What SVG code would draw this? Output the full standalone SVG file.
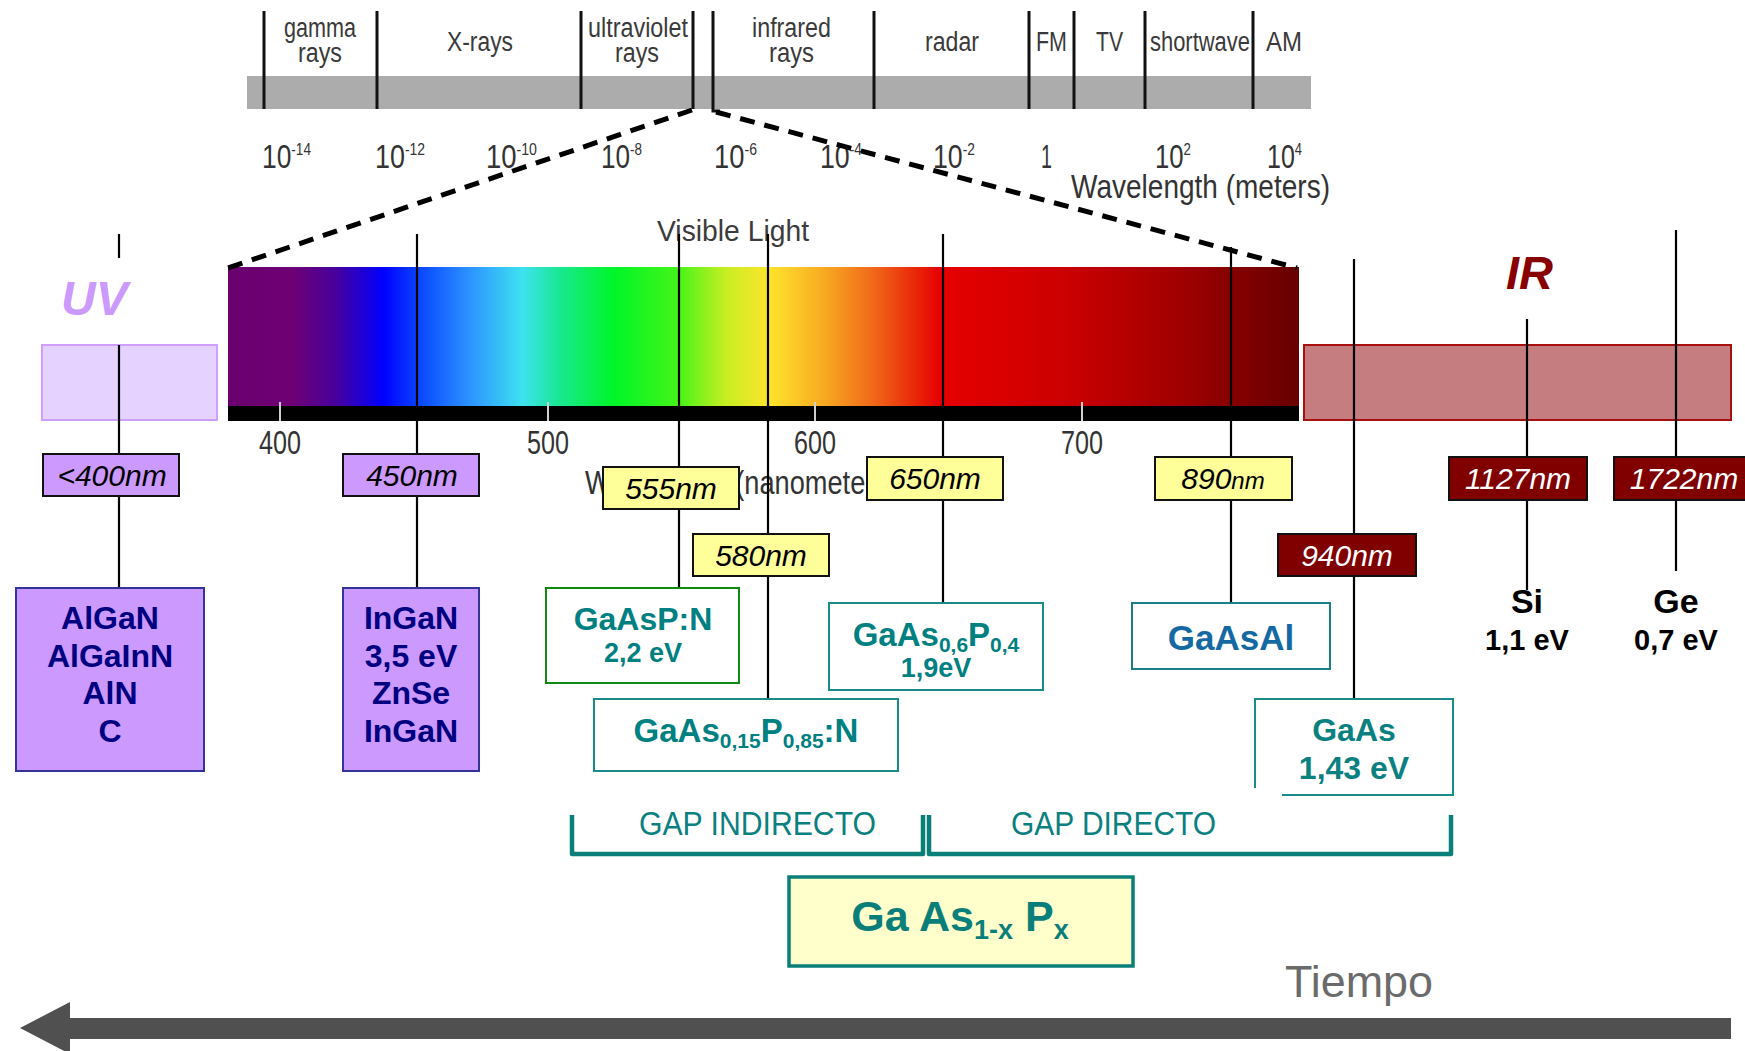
<svg xmlns="http://www.w3.org/2000/svg" width="1745" height="1051" viewBox="0 0 1745 1051">
<style>
.top{font-family:"Liberation Sans",Arial,sans-serif;font-size:27px;fill:#3a3a3a}
.tk{font-family:"Liberation Sans",Arial,sans-serif;font-size:33px;fill:#333}
.sup{font-size:17px}
.vis{font-family:"Liberation Sans",Arial,sans-serif;font-size:30px;fill:#3c3c3c}
.nm{font-family:"Liberation Sans",Arial,sans-serif;font-size:30px;font-style:italic;text-anchor:middle}
.mat{font-family:"Liberation Sans",Arial,sans-serif;font-weight:bold;text-anchor:middle}
.gap{font-family:"Liberation Sans",Arial,sans-serif;font-size:34px;fill:#0a8080}
.ln{stroke:#000;stroke-width:2.2;fill:none}
.div{stroke:#111;stroke-width:3;fill:none}
.dash{stroke:#000;stroke-width:5;stroke-dasharray:15 10;fill:none}
.lbl{stroke:#111;stroke-width:2}
.brk{stroke:#0a7f7a;stroke-width:4.5;fill:none;stroke-linejoin:round}
</style>
<defs>
<linearGradient id="spec" x1="0" y1="0" x2="1" y2="0">
<stop offset="0" stop-color="#6a006e"/>
<stop offset="0.06" stop-color="#6e0074"/>
<stop offset="0.10" stop-color="#48009c"/>
<stop offset="0.145" stop-color="#0000ff"/>
<stop offset="0.18" stop-color="#0a48ff"/>
<stop offset="0.225" stop-color="#2c92ff"/>
<stop offset="0.275" stop-color="#3ee2f0"/>
<stop offset="0.31" stop-color="#18e890"/>
<stop offset="0.36" stop-color="#00f628"/>
<stop offset="0.42" stop-color="#44f418"/>
<stop offset="0.465" stop-color="#c8ee22"/>
<stop offset="0.505" stop-color="#ffe42c"/>
<stop offset="0.555" stop-color="#f8ac22"/>
<stop offset="0.605" stop-color="#f06418"/>
<stop offset="0.665" stop-color="#e60000"/>
<stop offset="0.78" stop-color="#cc0000"/>
<stop offset="0.89" stop-color="#a00000"/>
<stop offset="1" stop-color="#660000"/>
</linearGradient>
</defs>
<rect width="1745" height="1051" fill="#fff"/>

<g id="em-spectrum">
<rect x="247" y="76" width="1064" height="33" fill="#acacac"/>
<g class="div">
<line x1="264" y1="11" x2="264" y2="109"/>
<line x1="377" y1="11" x2="377" y2="109"/>
<line x1="581" y1="11" x2="581" y2="109"/>
<line x1="693" y1="11" x2="693" y2="109"/>
<polyline points="713,11 713,111 720,111"/>
<line x1="874" y1="11" x2="874" y2="109"/>
<line x1="1029" y1="11" x2="1029" y2="109"/>
<line x1="1074" y1="11" x2="1074" y2="109"/>
<line x1="1145" y1="11" x2="1145" y2="109"/>
<line x1="1253" y1="11" x2="1253" y2="109"/>
</g>
<text class="top" x="284" y="37" textLength="72" lengthAdjust="spacingAndGlyphs">gamma</text>
<text class="top" x="298" y="62" textLength="44" lengthAdjust="spacingAndGlyphs">rays</text>
<text class="top" x="447" y="51" textLength="66" lengthAdjust="spacingAndGlyphs">X-rays</text>
<text class="top" x="588" y="37" textLength="100" lengthAdjust="spacingAndGlyphs">ultraviolet</text>
<text class="top" x="615" y="62" textLength="44" lengthAdjust="spacingAndGlyphs">rays</text>
<text class="top" x="752" y="37" textLength="79" lengthAdjust="spacingAndGlyphs">infrared</text>
<text class="top" x="769" y="62" textLength="45" lengthAdjust="spacingAndGlyphs">rays</text>
<text class="top" x="925" y="51" textLength="54" lengthAdjust="spacingAndGlyphs">radar</text>
<text class="top" x="1036" y="51" textLength="31" lengthAdjust="spacingAndGlyphs">FM</text>
<text class="top" x="1096" y="51" textLength="27" lengthAdjust="spacingAndGlyphs">TV</text>
<text class="top" x="1150" y="51" textLength="100" lengthAdjust="spacingAndGlyphs">shortwave</text>
<text class="top" x="1266" y="51" textLength="36" lengthAdjust="spacingAndGlyphs">AM</text>
<text class="tk" x="262" y="168" textLength="49" lengthAdjust="spacingAndGlyphs">10<tspan class="sup" dy="-13">-14</tspan></text>
<text class="tk" x="375" y="168" textLength="50" lengthAdjust="spacingAndGlyphs">10<tspan class="sup" dy="-13">-12</tspan></text>
<text class="tk" x="486" y="168" textLength="51" lengthAdjust="spacingAndGlyphs">10<tspan class="sup" dy="-13">-10</tspan></text>
<text class="tk" x="601" y="168" textLength="41" lengthAdjust="spacingAndGlyphs">10<tspan class="sup" dy="-13">-8</tspan></text>
<text class="tk" x="714" y="168" textLength="43" lengthAdjust="spacingAndGlyphs">10<tspan class="sup" dy="-13">-6</tspan></text>
<text class="tk" x="820" y="168" textLength="42" lengthAdjust="spacingAndGlyphs">10<tspan class="sup" dy="-13">-4</tspan></text>
<text class="tk" x="933" y="168" textLength="42" lengthAdjust="spacingAndGlyphs">10<tspan class="sup" dy="-13">-2</tspan></text>
<text class="tk" x="1041" y="168" textLength="11" lengthAdjust="spacingAndGlyphs">1</text>
<text class="tk" x="1155" y="168" textLength="36" lengthAdjust="spacingAndGlyphs">10<tspan class="sup" dy="-13">2</tspan></text>
<text class="tk" x="1267" y="168" textLength="35" lengthAdjust="spacingAndGlyphs">10<tspan class="sup" dy="-13">4</tspan></text>
<text class="tk" x="1071" y="198" font-size="31" textLength="259" lengthAdjust="spacingAndGlyphs">Wavelength (meters)</text>
</g>

<g id="visible-spectrum">
<text class="vis" x="657" y="241" textLength="152" lengthAdjust="spacingAndGlyphs">Visible Light</text>
<rect x="228" y="267" width="1071" height="140" fill="url(#spec)"/>
<rect x="228" y="406" width="1071" height="15" fill="#000"/>
<g stroke="#cfcfcf" stroke-width="2">
<line x1="280" y1="402" x2="280" y2="421"/>
<line x1="548" y1="402" x2="548" y2="421"/>
<line x1="815" y1="402" x2="815" y2="421"/>
<line x1="1082" y1="402" x2="1082" y2="421"/>
</g>
<text class="tk" x="259" y="454" textLength="42" lengthAdjust="spacingAndGlyphs">400</text>
<text class="tk" x="527" y="454" textLength="42" lengthAdjust="spacingAndGlyphs">500</text>
<text class="tk" x="794" y="454" textLength="42" lengthAdjust="spacingAndGlyphs">600</text>
<text class="tk" x="1061" y="454" textLength="42" lengthAdjust="spacingAndGlyphs">700</text>
<text class="tk" x="585" y="494" fill="#444" textLength="312" lengthAdjust="spacingAndGlyphs">Wavelength (nanometers)</text>
</g>

<g id="uv-band">
<rect x="42" y="345" width="175" height="75" fill="#e6d2ff" stroke="#cf9eff" stroke-width="2"/>
<text x="61" y="315" font-family="Liberation Sans, Arial, sans-serif" font-size="48" font-weight="bold" font-style="italic" fill="#cc99ff">UV</text>
</g>
<g id="ir-band">
<rect x="1304" y="345" width="427" height="75" fill="#c67d7f" stroke="#a81010" stroke-width="2"/>
<text x="1506" y="289" font-family="Liberation Sans, Arial, sans-serif" font-size="47" font-weight="bold" font-style="italic" fill="#880000">IR</text>
</g>

<g id="connectors">
<line class="ln" x1="119" y1="234" x2="119" y2="258"/>
<line class="ln" x1="119" y1="345" x2="119" y2="588"/>
<line class="ln" x1="417" y1="234" x2="417" y2="588"/>
<line class="ln" x1="679" y1="234" x2="679" y2="588"/>
<line class="ln" x1="768" y1="234" x2="768" y2="699"/>
<line class="ln" x1="943" y1="234" x2="943" y2="603"/>
<line class="ln" x1="1231" y1="247" x2="1231" y2="603"/>
<line class="ln" x1="1354" y1="259" x2="1354" y2="699"/>
<line class="ln" x1="1527" y1="319" x2="1527" y2="590"/>
<line class="ln" x1="1676" y1="230" x2="1676" y2="571"/>
<line class="dash" x1="692" y1="110" x2="228" y2="268"/>
<line class="dash" x1="716" y1="112" x2="1297" y2="268"/>
</g>

<g id="lbl-400">
<rect class="lbl" x="43" y="454" width="136" height="42" fill="#cc99ff"/>
<text class="nm" x="112" y="486">&lt;400nm</text>
</g>
<g id="lbl-450">
<rect class="lbl" x="343" y="454" width="136" height="42" fill="#cc99ff"/>
<text class="nm" x="412" y="486">450nm</text>
</g>
<g id="lbl-555">
<rect class="lbl" x="603" y="467" width="136" height="42" fill="#ffff99"/>
<text class="nm" x="671" y="499">555nm</text>
</g>
<g id="lbl-580">
<rect class="lbl" x="693" y="534" width="136" height="42" fill="#ffff99"/>
<text class="nm" x="761" y="566">580nm</text>
</g>
<g id="lbl-650">
<rect class="lbl" x="867" y="457" width="136" height="43" fill="#ffff99"/>
<text class="nm" x="935" y="489">650nm</text>
</g>
<g id="lbl-890">
<rect class="lbl" x="1155" y="457" width="137" height="43" fill="#ffff99"/>
<text class="nm" x="1223" y="489">890<tspan font-size="24">nm</tspan></text>
</g>
<g id="lbl-940">
<rect class="lbl" x="1278" y="534" width="138" height="42" fill="#800000"/>
<text class="nm" x="1347" y="566" fill="#fff">940nm</text>
</g>
<g id="lbl-1127">
<rect class="lbl" x="1449" y="457" width="138" height="43" fill="#800000"/>
<text class="nm" x="1518" y="489" fill="#fff">1127nm</text>
</g>
<g id="lbl-1722">
<rect class="lbl" x="1614" y="457" width="140" height="43" fill="#800000"/>
<text class="nm" x="1684" y="489" fill="#fff">1722nm</text>
</g>

<g id="node-algan">
<rect x="16" y="588" width="188" height="183" fill="#cc99ff" stroke="#333399" stroke-width="2"/>
<g class="mat" font-size="32" fill="#000080">
<text x="110" y="629">AlGaN</text>
<text x="110" y="667">AlGaInN</text>
<text x="110" y="704">AlN</text>
<text x="110" y="742">C</text>
</g>
</g>
<g id="node-ingan">
<rect x="343" y="588" width="136" height="183" fill="#cc99ff" stroke="#333399" stroke-width="2"/>
<g class="mat" font-size="32" fill="#000080">
<text x="411" y="629">InGaN</text>
<text x="411" y="667">3,5 eV</text>
<text x="411" y="704">ZnSe</text>
<text x="411" y="742">InGaN</text>
</g>
</g>
<g id="node-gaaspn">
<rect x="546" y="588" width="193" height="95" fill="#fff" stroke="#108a10" stroke-width="2"/>
<text class="mat" x="643" y="630" font-size="32" fill="#008080">GaAsP:N</text>
<text class="mat" x="643" y="662" font-size="27" fill="#008080">2,2 eV</text>
</g>
<g id="node-gaas015">
<rect x="594" y="699" width="304" height="72" fill="#fff" stroke="#1a8a8a" stroke-width="2"/>
<text class="mat" x="746" y="742" font-size="33" fill="#008080">GaAs<tspan font-size="21" dy="6">0,15</tspan><tspan dy="-6">P</tspan><tspan font-size="21" dy="6">0,85</tspan><tspan dy="-6">:N</tspan></text>
</g>
<g id="node-gaas06">
<rect x="829" y="603" width="214" height="87" fill="#fff" stroke="#1a8a8a" stroke-width="2"/>
<text class="mat" x="936" y="646" font-size="33" fill="#008080">GaAs<tspan font-size="21" dy="6">0,6</tspan><tspan dy="-6">P</tspan><tspan font-size="21" dy="6">0,4</tspan></text>
<text class="mat" x="936" y="677" font-size="27" fill="#008080">1,9eV</text>
</g>
<g id="node-gaasal">
<rect x="1132" y="603" width="198" height="66" fill="#fff" stroke="#1a7f86" stroke-width="2"/>
<text class="mat" x="1231" y="650" font-size="35" fill="#1569a3">GaAsAl</text>
</g>
<g id="node-gaas">
<path d="M1255,788 V699 H1453 V795 H1282" fill="none" stroke="#1a8a8a" stroke-width="2"/>
<text class="mat" x="1354" y="741" font-size="32" fill="#0a8080">GaAs</text>
<text class="mat" x="1354" y="779" font-size="32" fill="#0a8080">1,43 eV</text>
</g>
<g id="node-si">
<text class="mat" x="1527" y="613" font-size="34" fill="#000">Si</text>
<text class="mat" x="1527" y="650" font-size="29" fill="#000">1,1 eV</text>
</g>
<g id="node-ge">
<text class="mat" x="1676" y="613" font-size="34" fill="#000">Ge</text>
<text class="mat" x="1676" y="650" font-size="29" fill="#000">0,7 eV</text>
</g>

<g id="gap-indirecto">
<polyline class="brk" points="572,815 572,854 923,854 923,815"/>
<text class="gap" x="639" y="835" textLength="237" lengthAdjust="spacingAndGlyphs">GAP INDIRECTO</text>
</g>
<g id="gap-directo">
<polyline class="brk" points="929,815 929,854 1451,854 1451,815"/>
<text class="gap" x="1011" y="835" textLength="205" lengthAdjust="spacingAndGlyphs">GAP DIRECTO</text>
</g>
<g id="node-gaasp">
<rect x="789" y="877" width="344" height="89" fill="#ffffcc" stroke="#0a7f7a" stroke-width="3.5"/>
<text class="mat" x="960" y="931" font-size="43" fill="#0a7f7a">Ga As<tspan font-size="27" dy="8">1-x</tspan><tspan dy="-8"> P</tspan><tspan font-size="27" dy="8">x</tspan></text>
</g>

<g id="time-arrow">
<text x="1285" y="997" font-family="Liberation Sans, Arial, sans-serif" font-size="44" fill="#6b6b6b" textLength="148" lengthAdjust="spacingAndGlyphs">Tiempo</text>
<polygon points="20,1028 70,1002 70,1018 1731,1018 1731,1039 70,1039 70,1054" fill="#505050"/>
</g>
</svg>
